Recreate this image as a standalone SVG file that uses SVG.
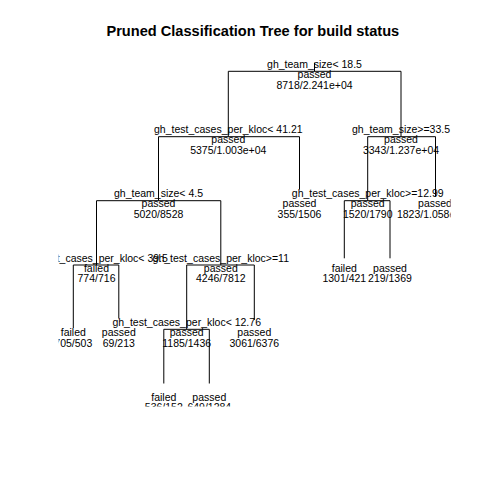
<svg xmlns="http://www.w3.org/2000/svg" width="480" height="480" viewBox="0 0 480 480">
<defs>
<style>
text{font-family:"Liberation Sans",Arial,sans-serif;font-size:10.5px;fill:#000;text-anchor:middle}
.title{font-size:14.6px;font-weight:bold}
.edge{fill:none;stroke:#000;stroke-width:1}
</style>
<clipPath id="plot"><rect x="58.6" y="59" width="392" height="347.5"/></clipPath>
</defs>
<rect width="480" height="480" fill="#fff"/>
<text class="title" x="252.8" y="35.5">Pruned Classification Tree for build status</text>
<g clip-path="url(#plot)">
<g id="connectors">
<path class="edge" d="M314.5 62.7V71.3"/>
<path class="edge" d="M228.3 136.7V71.3H401V136.7"/>
<path class="edge" d="M158.5 200.7V136.7H299.5V189.5"/>
<path class="edge" d="M367.7 200.7V136.7H435.5V196.7"/>
<path class="edge" d="M96.5 265V200.7H220.8V265"/>
<path class="edge" d="M344.3 258.3V200.7H390V258.3"/>
<path class="edge" d="M73.3 328V265H118.8V318.5"/>
<path class="edge" d="M186.7 329.3V265H254.3V320"/>
<path class="edge" d="M163.8 383.5V329.3H209.3V383.5"/>
</g>
<g id="root"><text x="314.5" y="67.8">gh_team_size&lt; 18.5</text><text x="314.5" y="78">passed</text><text x="314.5" y="88.6">8718/2.241e+04</text></g>
<g id="nA"><text x="228.3" y="133.2">gh_test_cases_per_kloc&lt; 41.21</text><text x="228.3" y="143.4">passed</text><text x="228.3" y="154">5375/1.003e+04</text></g>
<g id="nB"><text x="401" y="133.2">gh_team_size&gt;=33.5</text><text x="401" y="143.4">passed</text><text x="401" y="154">3343/1.237e+04</text></g>
<g id="nC"><text x="158.5" y="197.2">gh_team_size&lt; 4.5</text><text x="158.5" y="207.4">passed</text><text x="158.5" y="218">5020/8528</text></g>
<g id="nD"><text x="299.5" y="207.4">passed</text><text x="299.5" y="218">355/1506</text></g>
<g id="nE"><text x="367.7" y="197.2">gh_test_cases_per_kloc&gt;=12.99</text><text x="367.7" y="207.4">passed</text><text x="367.7" y="218">1520/1790</text></g>
<g id="nF"><text x="435" y="207.4">passed</text><text x="435" y="218">1823/1.058e+04</text></g>
<g id="nG"><text x="96.5" y="261.5">gh_test_cases_per_kloc&lt; 39.5</text><text x="96.5" y="271.7">failed</text><text x="96.5" y="282.3">774/716</text></g>
<g id="nH"><text x="220.8" y="261.5">gh_test_cases_per_kloc&gt;=11</text><text x="220.8" y="271.7">passed</text><text x="220.8" y="282.3">4246/7812</text></g>
<g id="nI"><text x="344.3" y="271.7">failed</text><text x="344.3" y="282.3">1301/421</text></g>
<g id="nJ"><text x="390" y="271.7">passed</text><text x="390" y="282.3">219/1369</text></g>
<g id="nL"><text x="73.3" y="336">failed</text><text x="73.3" y="346.6">705/503</text></g>
<g id="nM"><text x="118.8" y="336">passed</text><text x="118.8" y="346.6">69/213</text></g>
<g id="nK"><text x="186.7" y="325.8">gh_test_cases_per_kloc&lt; 12.76</text><text x="186.7" y="336">passed</text><text x="186.7" y="346.6">1185/1436</text></g>
<g id="nN"><text x="254.3" y="336">passed</text><text x="254.3" y="346.6">3061/6376</text></g>
<g id="nO"><text x="163.8" y="400.5">failed</text><text x="163.8" y="411.1">536/152</text></g>
<g id="nP"><text x="209.3" y="400.5">passed</text><text x="209.3" y="411.1">649/1284</text></g>
</g>
</svg>
